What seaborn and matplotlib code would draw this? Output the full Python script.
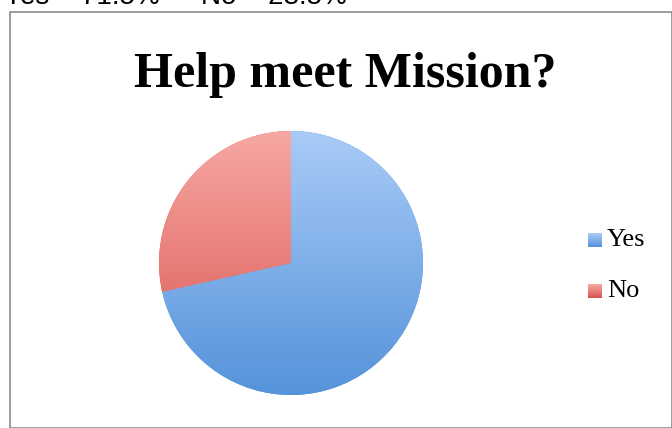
import matplotlib
matplotlib.use("Agg")
import matplotlib.pyplot as plt
import seaborn as sns
import numpy as np
from matplotlib.patches import Rectangle
from matplotlib.colors import LinearSegmentedColormap

sns.set_theme(style="white")
plt.rcParams['font.family'] = ['Liberation Serif', 'DejaVu Serif']

categories = ["Yes", "No"]
values = [71.5, 28.5]
top_colors = ["#a9cbf7", "#f7a8a3"]
bottom_colors = ["#5593da", "#d9534f"]
title = "Help meet Mission?"
summary = ["Yes = 71.5%", "No = 28.5%"]

fig = plt.figure(figsize=(6.72, 4.28), dpi=100)
fig.patch.set_facecolor("white")

# chart frame
fig.patches.append(Rectangle((10/672, 0), 1 - 10/672, 1 - 12/428, transform=fig.transFigure,
                             fill=False, edgecolor="#8c8c8c", linewidth=1.2))

for xpx, s in zip([4, 201], summary):
    fig.text(xpx/672, 1 - 4/428, s, ha="left", va="baseline",
             fontsize=20, family=["Liberation Sans", "DejaVu Sans"], color="black")

fig.text(345/672, 1 - 87/428, title, ha="center", va="baseline", fontsize=36,
         fontweight="bold", color="black")

ax = fig.add_axes([(291-132)/672, (428-395)/428, 264/672, 264/428])
wedges, _ = ax.pie(values, startangle=90, counterclock=False, colors=bottom_colors,
                   wedgeprops=dict(linewidth=0))

for w, c1, c2 in zip(wedges, top_colors, bottom_colors):
    cmap = LinearSegmentedColormap.from_list("g", [c2, c1])
    grad = np.linspace(0, 1, 256).reshape(-1, 1)
    im = ax.imshow(grad, extent=[-1, 1, -1, 1], origin="lower", cmap=cmap,
                   aspect="auto", zorder=w.get_zorder() + 0.1)
    im.set_clip_path(w)
ax.set_xlim(-1, 1)
ax.set_ylim(-1, 1)
ax.axis("off")

# legend
for i, (cat, c1, c2) in enumerate(zip(categories, top_colors, bottom_colors)):
    y = 1 - (240 + i*51)/428
    sq = fig.add_axes([588/672, y - 7/428, 14/672, 14/428])
    sq.imshow(np.linspace(0, 1, 32).reshape(-1, 1), cmap=LinearSegmentedColormap.from_list("s", [c1, c2]),
              aspect="auto", extent=[0, 1, 0, 1])
    sq.axis("off")
    fig.text(607/672, y, cat, ha="left", va="center", fontsize=19, color="black")

fig.savefig("out.png", dpi=100)
